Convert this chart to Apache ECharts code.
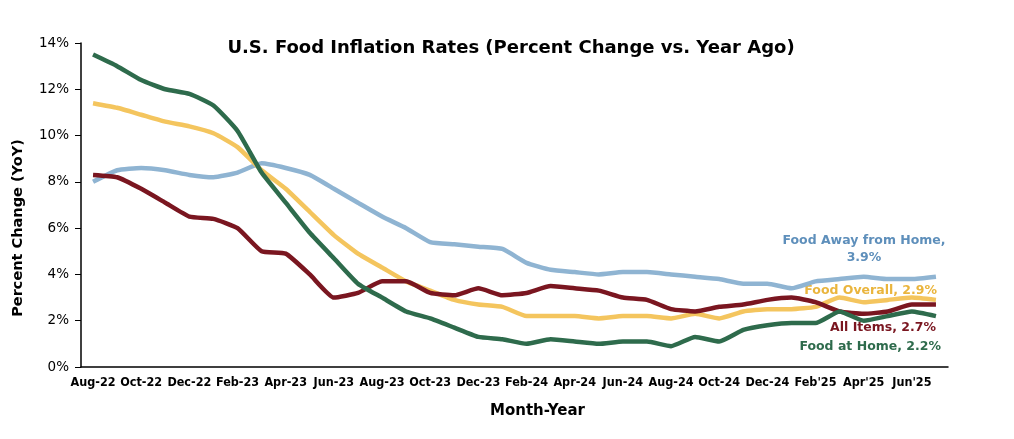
<!DOCTYPE html>
<html>
<head>
<meta charset="utf-8">
<script src="https://cdn.jsdelivr.net/npm/echarts@6/dist/echarts.min.js"></script>
<style>html,body{margin:0;padding:0;background:#fff;}#c{width:1014px;height:439px;}</style>
</head>
<body>
<div id="c"></div>
<script>
const months = ["Aug-22","Sep-22","Oct-22","Nov-22","Dec-22","Jan-23","Feb-23","Mar-23","Apr-23","May-23","Jun-23","Jul-23",
"Aug-23","Sep-23","Oct-23","Nov-23","Dec-23","Jan-24","Feb-24","Mar-24","Apr-24","May-24","Jun-24","Jul-24",
"Aug-24","Sep-24","Oct-24","Nov-24","Dec-24","Jan'25","Feb'25","Mar'25","Apr'25","May'25","Jun'25","Jul'25"];
const allItems = [8.3,8.2,7.7,7.1,6.5,6.4,6.0,5.0,4.9,4.0,3.0,3.2,3.7,3.7,3.2,3.1,3.4,3.1,3.2,3.5,3.4,3.3,3.0,2.9,2.5,2.4,2.6,2.7,2.9,3.0,2.8,2.4,2.3,2.4,2.7,2.7];
const foodOverall = [11.4,11.2,10.9,10.6,10.4,10.1,9.5,8.5,7.7,6.7,5.7,4.9,4.3,3.7,3.3,2.9,2.7,2.6,2.2,2.2,2.2,2.1,2.2,2.2,2.1,2.3,2.1,2.4,2.5,2.5,2.6,3.0,2.8,2.9,3.0,2.9];
const foodAtHome = [13.5,13.0,12.4,12.0,11.8,11.3,10.2,8.4,7.1,5.8,4.7,3.6,3.0,2.4,2.1,1.7,1.3,1.2,1.0,1.2,1.1,1.0,1.1,1.1,0.9,1.3,1.1,1.6,1.8,1.9,1.9,2.4,2.0,2.2,2.4,2.2];
const foodAway = [8.0,8.5,8.6,8.5,8.3,8.2,8.4,8.8,8.6,8.3,7.7,7.1,6.5,6.0,5.4,5.3,5.2,5.1,4.5,4.2,4.1,4.0,4.1,4.1,4.0,3.9,3.8,3.6,3.6,3.4,3.7,3.8,3.9,3.8,3.8,3.9];
const yTicks = [0,2,4,6,8,10,12,14];

const C = {red:"#7A1620", yellow:"#F4C55E", green:"#2E6B4C", blue:"#8FB4D2"};
const FONT = "DejaVu Sans";
const FONTC = "'DejaVu Sans Condensed', 'DejaVu Sans'";
const chart = echarts.init(document.getElementById('c'), null, {renderer:'canvas'});
function line(name, data, color){
  return {name, type:'line', data, symbol:'none', smooth:0.15,
    lineStyle:{color, width:4.5}, itemStyle:{color}};
}
chart.setOption({
  animation:false,
  backgroundColor:'#fff',
  title:{text:"U.S. Food Inflation Rates (Percent Change vs. Year Ago)", left:506, top:34, textAlign:'center',
    textStyle:{fontFamily:FONT, fontWeight:'bold', fontSize:18, color:'#000'}},
  grid:{left:81, right:66, top:43, bottom:72, containLabel:false},
  xAxis:{type:'category', data:months, boundaryGap:true,
    axisLine:{lineStyle:{color:'#000', width:1.5}},
    axisTick:{interval:0, length:5, lineStyle:{color:'#000'}},
    axisLabel:{interval:1, fontFamily:FONTC, fontWeight:'bold', fontSize:12.5, color:'#000', margin:9},
    splitLine:{show:false}},
  yAxis:{type:'value', min:0, max:14, interval:2,
    axisLine:{show:true, lineStyle:{color:'#000', width:1.5}},
    axisTick:{show:true, length:6, lineStyle:{color:'#000'}},
    axisLabel:{formatter: v => yTicks.includes(v) ? v + '%' : '', fontFamily:FONT, fontSize:13.5, color:'#000', margin:12},
    splitLine:{show:false}},
  series:[
    line("Food Away from Home", foodAway, C.blue),
    line("Food Overall", foodOverall, C.yellow),
    line("All Items", allItems, C.red),
    line("Food at Home", foodAtHome, C.green)
  ],
  graphic:[
    {type:'text', x:18, y:228, rotation:Math.PI/2, style:{text:"Percent Change (YoY)", font:"bold 14.5px 'DejaVu Sans'", fill:'#000', align:'center', verticalAlign:'middle'}},
    {type:'text', left:490, top:404, style:{text:"Month-Year", font:"bold 15px 'DejaVu Sans'", fill:'#000'}},
    {type:'text', x:864, y:249, style:{text:"Food Away from Home,\n3.9%", font:"bold 12.5px 'DejaVu Sans'", fill:'#5E8FBB', align:'center', verticalAlign:'middle', lineHeight:17}},
    {type:'text', x:937, y:291, style:{text:"Food Overall, 2.9%", font:"bold 12.5px 'DejaVu Sans'", fill:'#EAB53D', align:'right', verticalAlign:'middle'}},
    {type:'text', x:936, y:328, style:{text:"All Items, 2.7%", font:"bold 12.5px 'DejaVu Sans'", fill:C.red, align:'right', verticalAlign:'middle'}},
    {type:'text', x:941, y:347, style:{text:"Food at Home, 2.2%", font:"bold 12.5px 'DejaVu Sans'", fill:C.green, align:'right', verticalAlign:'middle'}}
  ]
});
</script>
</body>
</html>
